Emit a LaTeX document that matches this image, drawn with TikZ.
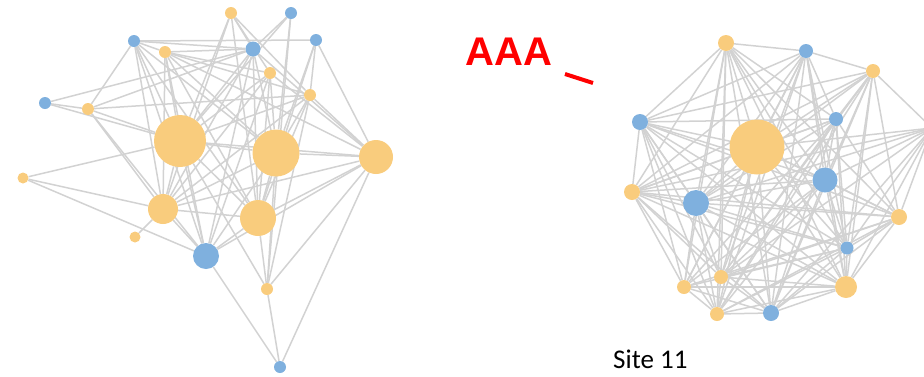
\documentclass[tikz,border=0pt]{standalone}
\usepackage{fontspec}
\setmainfont{Liberation Sans}
\newfontfamily\arialfont{Liberation Sans}
\newfontfamily\califont{Carlito}
\usetikzlibrary{backgrounds}
\definecolor{nodeorange}{RGB}{249,204,125}
\definecolor{nodeblue}{RGB}{127,176,222}
\definecolor{edgegray}{RGB}{210,210,210}
\tikzset{
  onode/.style={circle, fill=nodeorange, draw=none, inner sep=0pt, minimum size=#1},
  bnode/.style={circle, fill=nodeblue, draw=none, inner sep=0pt, minimum size=#1},
  edge/.style={draw=edgegray, line width=1.5pt},
}
\begin{document}
\begin{tikzpicture}[x=1pt,y=-1pt]
\useasboundingbox (0,0) rectangle (924,376);
% ---------- left graph ----------
\node[onode=12pt] (a) at (231,13) {};
\node[bnode=12pt] (b) at (291,13) {};
\node[bnode=12pt] (c) at (134,41) {};
\node[onode=12pt] (d) at (165,52) {};
\node[bnode=15pt] (e) at (253,49) {};
\node[bnode=12pt] (f) at (316,40) {};
\node[onode=12pt] (g) at (270,73) {};
\node[onode=12pt] (h) at (310,95) {};
\node[bnode=12pt] (i) at (45,103) {};
\node[onode=12pt] (j) at (88,109) {};
\node[onode=52pt] (k) at (180,141) {};
\node[onode=47pt] (l) at (276,153) {};
\node[onode=34pt] (m) at (376,157) {};
\node[onode=11pt] (n) at (23,178) {};
\node[onode=30pt] (o) at (163,209) {};
\node[onode=36pt] (p) at (258,218) {};
\node[onode=11pt] (q) at (135,237) {};
\node[bnode=26pt] (r) at (206,256) {};
\node[onode=12pt] (s) at (267,289) {};
\node[bnode=12pt] (t) at (280,367) {};
% ---------- right graph ----------
\node[onode=16pt] (RA) at (726,43) {};
\node[bnode=14pt] (RB) at (806,51) {};
\node[onode=14pt] (RC) at (873,71) {};
\node[bnode=16pt] (RD) at (640,122) {};
\node[bnode=14pt] (RE) at (836,119) {};
\node[onode=55pt] (RF) at (757,147) {};
\node[bnode=25pt] (RG) at (825,180) {};
\node[onode=16pt] (RH) at (632,192) {};
\node[bnode=26pt] (RI) at (696,203) {};
\node[onode=16pt] (RJ) at (932,128) {};
\node[onode=16pt] (RK) at (899,217) {};
\node[bnode=13pt] (RL) at (847,248) {};
\node[onode=14pt] (RM) at (721,277) {};
\node[onode=14pt] (RN) at (684,287) {};
\node[onode=22pt] (RO) at (846,287) {};
\node[onode=14pt] (RP) at (717,314) {};
\node[bnode=16pt] (RQ) at (771,313) {};
% ---------- edges ----------
\begin{pgfonlayer}{background}
\foreach \u/\w in {
  i/{j,e,k},
  j/{c,e,k,o,r,h},
  n/{k,o,r},
  q/{o},
  c/{d,e,f,k,o,r,l,p},
  d/{e,g,h,k,l,m,o,p,r},
  a/{e,g,h,k,o,p},
  b/{e,l,k,s},
  e/{k,l,o,p,r,m},
  f/{m,l,p,h},
  g/{k,l,m,o,p,r},
  h/{m,k,l,o,p,s},
  k/{l,m,o,p,r,s},
  l/{m,o,p,r,s},
  m/{o,p,r,s,t},
  o/{p,r},
  p/{r,s},
  r/{t},
  s/{t}}
  {\foreach \v in \w {\draw[edge] (\u) -- (\v);}}
\foreach \u/\w in {
  A/{B,D,E,F,G,H,I,K,L,M,N,O,P,Q},
  B/{C,D,E,F,G,H,I,L,M,N,O,P,Q},
  C/{D,E,F,G,H,I,J,K,L,M,O,P,Q},
  D/{E,F,G,H,I,K,L,M,N,O,P,Q},
  E/{F,G,H,I,K,L,M,N,O,P,Q},
  F/{G,H,I,J,K,L,M,N,O,P,Q},
  G/{H,I,J,K,L,M,N,O,P,Q},
  H/{I,J,K,L,M,N,O,P,Q},
  I/{J,K,L,M,N,O,P,Q},
  J/{K,L,M,O,Q},
  K/{L,M,N,O,P,Q},
  L/{M,N,O,P,Q},
  M/{O,P,Q},
  N/{O,P,Q},
  O/{P,Q},
  P/{Q}}
  {\foreach \v in \w {\draw[edge] (R\u) -- (R\v);}}
\end{pgfonlayer}
% ---------- labels ----------
\node[text=red, font=\arialfont\bfseries\fontsize{40}{40}\selectfont, anchor=base, inner sep=0pt] (aaa) at (509,65) {AAA};
\coordinate (rl1) at (565,74);
\coordinate (rl2) at (593,83);
\draw[red, line width=4pt] (rl1) -- (rl2);
\node[text=black, font=\califont\fontsize{27}{27}\selectfont, anchor=base west, inner sep=0pt] (site) at (613,368) {Site 11};
\end{tikzpicture}
\end{document}
